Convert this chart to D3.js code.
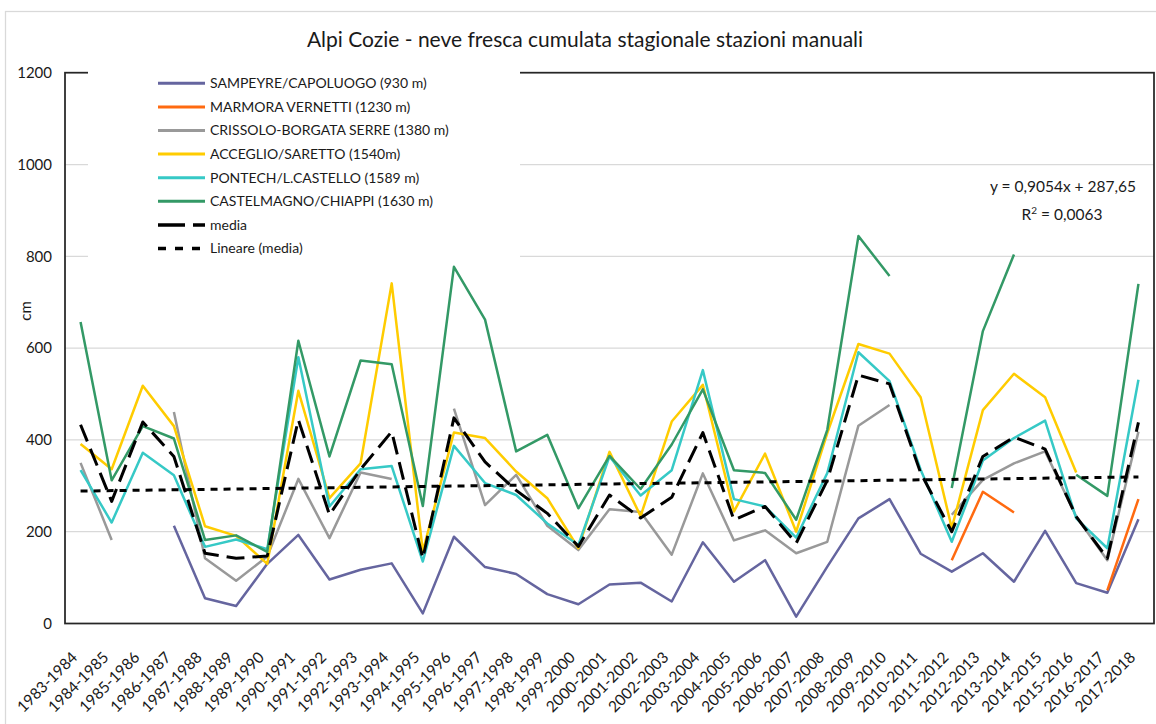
<!DOCTYPE html>
<html>
<head>
<meta charset="utf-8">
<script src="https://cdn.jsdelivr.net/npm/d3@7"></script>
<style>
  html, body { margin: 0; padding: 0; background: #fff; }
  svg { display: block; font-family: Lato, "Open Sans", sans-serif; }
</style>
</head>
<body>
<svg id="chart" width="1156" height="724"></svg>
<script>

// seasons on the category axis
var seasons = ['1983-1984', '1984-1985', '1985-1986', '1986-1987', '1987-1988', '1988-1989', '1989-1990',
	'1990-1991', '1991-1992', '1992-1993', '1993-1994', '1994-1995', '1995-1996', '1996-1997', '1997-1998',
	'1998-1999', '1999-2000', '2000-2001', '2001-2002', '2002-2003', '2003-2004', '2004-2005', '2005-2006',
	'2006-2007', '2007-2008', '2008-2009', '2009-2010', '2010-2011', '2011-2012', '2012-2013', '2013-2014',
	'2014-2015', '2015-2016', '2016-2017', '2017-2018'];

var yTicks = [0, 200, 400, 600, 800, 1000, 1200];

// cumulated fresh snow (cm), null = no data
var sampeyre = [null, null, null, 213, 55, 38, 130, 193, 96, 117, 131, 22, 189, 123, 108, 64, 42, 85, 89, 48,
	177, 91, 138, 15, 124, 229, 271, 152, 113, 153, 91, 202, 88, 67, 227];
var marmora = [null, null, null, null, null, null, null, null, null, null, null, null, null, null, null, null,
	null, null, null, null, null, null, null, null, null, null, null, null, 138, 287, 242, null, null, 72, 271];
var crissolo = [350, 182, null, 461, 142, 93, 146, 315, 186, 329, 315, null, 468, 258, 324, 213, 160, 249, 243,
	150, 327, 181, 203, 153, 178, 431, 476, null, 237, 313, 349, 375, 233, 138, 418];
var acceglio = [391, 336, 518, 430, 212, 191, 130, 507, 273, 349, 741, 157, 416, 404, 331, 273, 164, 374, 234,
	440, 520, 244, 370, 200, 415, 609, 588, 493, 208, 465, 544, 493, 329, null, null];
var pontech = [334, 220, 372, 323, 167, 183, 162, 580, 255, 336, 343, 135, 387, 306, 280, 218, 171, 364, 279,
	334, 552, 271, 255, 187, 328, 591, 528, 335, 178, 355, 404, 442, 229, 164, 531];
var castelmagno = [657, 312, 430, 403, 182, 192, 156, 616, 364, 573, 565, 256, 777, 662, 375, 411, 251, 365, 293,
	390, 510, 334, 328, 226, 422, 844, 757, null, 295, 637, 804, null, 324, 278, 740];
var media = [433, 266, 439, 364, 153, 142, 147, 444, 237, 336, 418, 142, 448, 352, 290, 240, 168, 280, 230,
	275, 416, 226, 255, 175, 312, 541, 522, 328, 200, 364, 406, 380, 233, 142, 438];

// trend line as printed on the chart (x = 1..35)
var trendSlope = 0.9054;
var trendIntercept = 287.65;

var series = [
	{ name: 'SAMPEYRE/CAPOLUOGO (930 m)', values: sampeyre, color: '#65659f', width: 2.5 },
	{ name: 'MARMORA VERNETTI (1230 m)', values: marmora, color: '#ff6a10', width: 2.5 },
	{ name: 'CRISSOLO-BORGATA SERRE (1380 m)', values: crissolo, color: '#999999', width: 2.5 },
	{ name: 'ACCEGLIO/SARETTO (1540m)', values: acceglio, color: '#ffcc00', width: 2.5 },
	{ name: 'PONTECH/L.CASTELLO (1589 m)', values: pontech, color: '#36c9c6', width: 2.5 },
	{ name: 'CASTELMAGNO/CHIAPPI (1630 m)', values: castelmagno, color: '#339966', width: 2.5 },
	{ name: 'media', values: media, color: '#000', width: 3, dash: '18,8' }
];

(function() {

	var svg = d3.select('#chart');
	var pL = 65, pR = 1154, pT = 72.7, pB = 623.5;

	var x = d3.scaleBand().domain(seasons).range([pL, pR]);
	var xc = function(s) { return x(s) + x.bandwidth() / 2; };
	var y = d3.scaleLinear().domain([0, 1200]).range([pB, pT]);

	// chart frame
	svg.append('rect').attr('x', 5.5).attr('y', 11.5).attr('width', 1170).attr('height', 730)
		.attr('fill', 'none').attr('stroke', '#d9d9d9').attr('stroke-width', 1.25);

	svg.append('text').attr('x', 585).attr('y', 47).attr('text-anchor', 'middle')
		.attr('font-size', 21).attr('fill', '#1a1a1a')
		.text('Alpi Cozie - neve fresca cumulata stagionale stazioni manuali');

	// gridlines
	svg.append('g').selectAll('line').data(yTicks.slice(1, -1)).join('line')
		.attr('x1', pL).attr('x2', pR)
		.attr('y1', function(d) { return y(d); }).attr('y2', function(d) { return y(d); })
		.attr('stroke', '#d9d9d9').attr('stroke-width', 1.25);

	// y axis labels
	var gy = svg.append('g').attr('transform', 'translate(' + pL + ',0)')
		.call(d3.axisLeft(y).tickValues(yTicks).tickSize(0).tickPadding(13).tickFormat(d3.format('d')));
	gy.select('.domain').remove();
	gy.selectAll('text').attr('font-size', 15).attr('font-family', 'Lato').attr('fill', '#1a1a1a');

	svg.append('text').attr('transform', 'translate(31,311) rotate(-90)')
		.attr('text-anchor', 'middle').attr('font-size', 15).attr('fill', '#1a1a1a').text('cm');

	// x axis labels
	var gx = svg.append('g').attr('transform', 'translate(0,' + pB + ')')
		.call(d3.axisBottom(x).tickSize(0).tickPadding(0));
	gx.select('.domain').remove();
	gx.selectAll('text')
		.attr('font-size', 15.5).attr('font-family', 'Lato').attr('fill', '#1a1a1a')
		.attr('text-anchor', 'end')
		.attr('y', 0).attr('dy', '0.35em')
		.attr('transform', 'translate(-6,31) rotate(-45)');

	// series
	var line = d3.line()
		.defined(function(d) { return d != null; })
		.x(function(d, i) { return xc(seasons[i]); })
		.y(function(d) { return y(d); });

	svg.append('g').selectAll('path').data(series).join('path')
		.attr('d', function(s) { return line(s.values); })
		.attr('fill', 'none')
		.attr('stroke', function(s) { return s.color; })
		.attr('stroke-width', function(s) { return s.width; })
		.attr('stroke-dasharray', function(s) { return s.dash || null; })
		.attr('stroke-linejoin', 'round');

	// linear trend of media
	var n = seasons.length;
	svg.append('line')
		.attr('x1', xc(seasons[0])).attr('y1', y(trendSlope * 1 + trendIntercept))
		.attr('x2', xc(seasons[n - 1])).attr('y2', y(trendSlope * n + trendIntercept))
		.attr('stroke', '#000').attr('stroke-width', 3).attr('stroke-dasharray', '7,6');

	svg.append('text').attr('x', 1136).attr('y', 192).attr('text-anchor', 'end')
		.attr('font-size', 15.5).attr('fill', '#1a1a1a').text('y = 0,9054x + 287,65');
	var r2 = svg.append('text').attr('x', 1062).attr('y', 220).attr('text-anchor', 'middle')
		.attr('font-size', 15.5).attr('fill', '#1a1a1a');
	r2.append('tspan').text('R');
	r2.append('tspan').attr('dy', -6).attr('font-size', 10).text('2');
	r2.append('tspan').attr('dy', 6).text(' = 0,0063');

	// plot frame
	svg.append('rect').attr('x', pL).attr('y', pT).attr('width', pR - pL).attr('height', pB - pT)
		.attr('fill', 'none').attr('stroke', '#262626').attr('stroke-width', 1.75);

	// legend (white box over the frame)
	var legendItems = series.concat([{ name: 'Lineare (media)', color: '#000', width: 3, dash: '7,6' }]);
	svg.append('rect').attr('x', 88).attr('y', 66).attr('width', 432).attr('height', 194).attr('fill', '#fff');
	var lg = svg.append('g').selectAll('g').data(legendItems).join('g')
		.attr('transform', function(d, i) { return 'translate(158,' + (83.3 + i * 23.6) + ')'; });
	lg.append('line').attr('x1', 0).attr('x2', 47)
		.attr('stroke', function(d) { return d.color; })
		.attr('stroke-width', function(d) { return d.width + 0.5; })
		.attr('stroke-dasharray', function(d) { return d.dash === '18,8' ? '27,8' : (d.dash ? '8,9' : null); });
	lg.append('text').attr('x', 52).attr('dy', '0.35em').attr('font-size', 14).attr('fill', '#1a1a1a')
		.text(function(d) { return d.name; });

})();

</script>
</body>
</html>
